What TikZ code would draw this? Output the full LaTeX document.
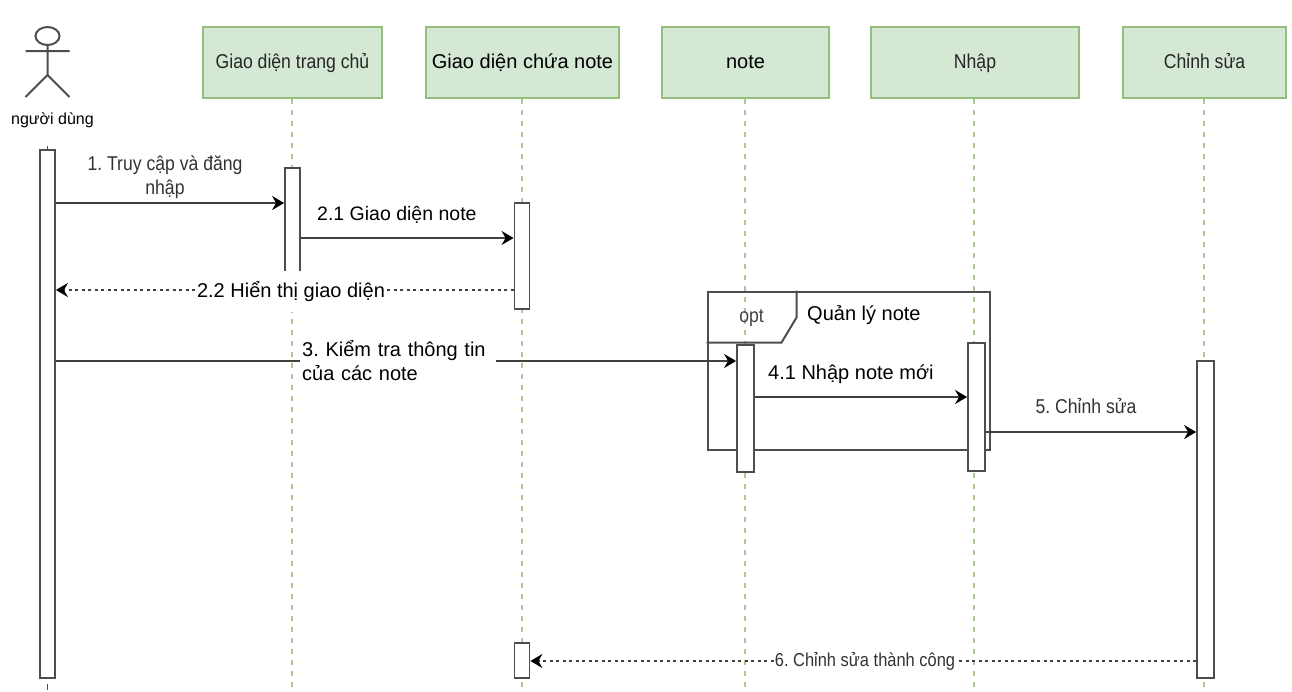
\documentclass[tikz,border=0pt]{standalone}
\usepackage{fontspec}
\setmainfont{Liberation Sans}
\newfontfamily\narrowfont[FakeStretch=0.88]{Liberation Sans}
\usetikzlibrary{positioning,arrows.meta,shapes.geometric}
\definecolor{headfill}{HTML}{D5E8D4}
\definecolor{headline}{HTML}{82B366}
\definecolor{barline}{HTML}{4D4D4D}
\newcommand{\sizeA}{\narrowfont\fontsize{20}{24}\selectfont}
\newcommand{\sizeB}{\fontsize{20}{24}\selectfont}
\frenchspacing
\begin{document}
\frenchspacing
\begin{tikzpicture}[x=1pt,y=-1pt,
    header/.style={draw=headline!85,fill=headfill,line width=2pt,minimum height=71pt,inner sep=0pt,text=black!85,text height=15pt,text depth=3pt,font=\sizeA},
    lifeline/.style={draw=headline!70,line width=2pt,dash pattern=on 5pt off 6pt},
    bar/.style={draw=barline,fill=white,line width=1.8pt,minimum width=15pt,inner sep=0pt},
    msg/.style={draw=black!75,line width=2pt,-{Stealth[length=12pt,width=14pt,inset=4pt,black]}},
    ret/.style={msg,dash pattern=on 3pt off 3.5pt},
    msglabel/.style={fill=white,inner sep=1pt,font=\sizeB\frenchspacing,align=left}]
    \useasboundingbox (0,0) rectangle (1292,691);
    %% headers
    \node (home) [header,minimum width=179pt] at (292.5,62.5) {Giao diện trang chủ};
    \node (list) [header,minimum width=193pt,font=\sizeB,text=black] at (522.5,62.5) {Giao diện chứa note};
    \node (note) [header,minimum width=167pt,font=\sizeB,text=black] at (745.5,62.5) {note};
    \node (input) [header,minimum width=208pt] at (975,62.5) {Nhập};
    \node (edit) [header,minimum width=163pt] at (1204.5,62.5) {Chỉnh sửa};
    \foreach \head in {home,list,note,input,edit}
        \draw[lifeline] ([xshift=-1pt]\head.south) -- ([xshift=-1pt]\head.south |- 0,691);
    %% actor
    \node (head) [draw=barline,line width=2pt,ellipse,minimum width=24pt,minimum height=18pt,inner sep=0pt] at (47.5,36) {};
    \coordinate (hip) at (47.5,75);
    \coordinate (foot left) at (25.5,97);
    \coordinate (foot right) at (69.5,97);
    \coordinate (arm left) at (25.5,51);
    \coordinate (arm right) at (69.5,51);
    \draw[barline,line width=2pt] (head.south) -- (hip) (arm left) -- (arm right)
        (foot left) -- (hip) -- (foot right);
    \node (user) [font=\fontsize{16}{18}\selectfont] at (52.5,120.5) {người dùng};
    %% frame
    \node (frame) [draw=barline,line width=2pt,minimum width=282pt,minimum height=158pt,inner sep=0pt] at (848.5,370.5) {};
    \draw[barline,line width=2pt] (frame.north west) ++(90,0) -- ++(0,27) -- ++(-15,25) -- ++(-75,0);
    \node (opt) [text=black!75,font=\sizeA] at (751.5,318) {opt};
    \node (optname) [font=\sizeB,anchor=west,inner sep=0pt] at (807,315) {Quản lý note};
    %% activation bars
    \node (user bar) [bar,minimum height=528pt] at (47.5,414) {};
    \coordinate (user top) at (47.5,146);
    \coordinate (user end) at (47.5,684);
    \coordinate (user stub) at (47.5,690);
    \draw[barline,line width=1.8pt] (user top) -- (user bar.north) (user end) -- (user stub);
    \node (home bar) [bar,minimum height=132pt] at (292.5,234) {};
    \node (list bar) [bar,minimum height=106pt] at (522,256) {};
    \node (list end) [bar,minimum height=35pt] at (522,660.5) {};
    \node (note bar) [bar,minimum width=17pt,minimum height=127pt] at (745.5,408.5) {};
    \node (input bar) [bar,minimum width=17pt,minimum height=128pt] at (976.5,407) {};
    \node (edit bar) [bar,minimum width=17pt,minimum height=317pt] at (1205.5,519.5) {};
    %% messages
    \draw[msg] (user bar.east |- 0,203) -- (home bar.west |- 0,203);
    \node (m1) [msglabel,align=center,text=black!80,fill=none,font=\sizeA\frenchspacing] at (165,177) {1. Truy cập và đăng\\nhập};
    \draw[msg] (home bar.east |- 0,238) -- (list bar.west |- 0,238);
    \node (m21) [msglabel,anchor=west,fill=none,font=\fontsize{19.5}{24}\selectfont] at (316,215) {2.1 Giao diện note};
    \draw[ret] (list bar.west |- 0,290) -- (user bar.east |- 0,290);
    \node (m22) [msglabel,minimum height=41pt,minimum width=192pt] at (291,291) {2.2 Hiển thị giao diện};
    \draw[msg] (user bar.east |- 0,361) -- (note bar.west |- 0,361);
    \node (m3) [msglabel,anchor=west,text width=192pt,inner xsep=2pt] at (300,361) {3. Kiểm tra thông tin\\của các note};
    \draw[msg] (note bar.east |- 0,397) -- (input bar.west |- 0,397);
    \node (m41) [msglabel,anchor=west,fill=none,inner sep=0pt] at (768,374) {4.1 Nhập note mới};
    \draw[msg] (input bar.east |- 0,432) -- (edit bar.west |- 0,432);
    \node (m5) [msglabel,text=black!80,fill=none,font=\sizeA\frenchspacing] at (1086,406) {5. Chỉnh sửa};
    \draw[ret] (edit bar.west |- 0,661) -- (list end.east |- 0,661);
    \node (m6) [msglabel,text=black!80,font=\narrowfont\fontsize{18.7}{24}\selectfont\frenchspacing] at (865,661) {6. Chỉnh sửa thành công};
\end{tikzpicture}
\end{document}
